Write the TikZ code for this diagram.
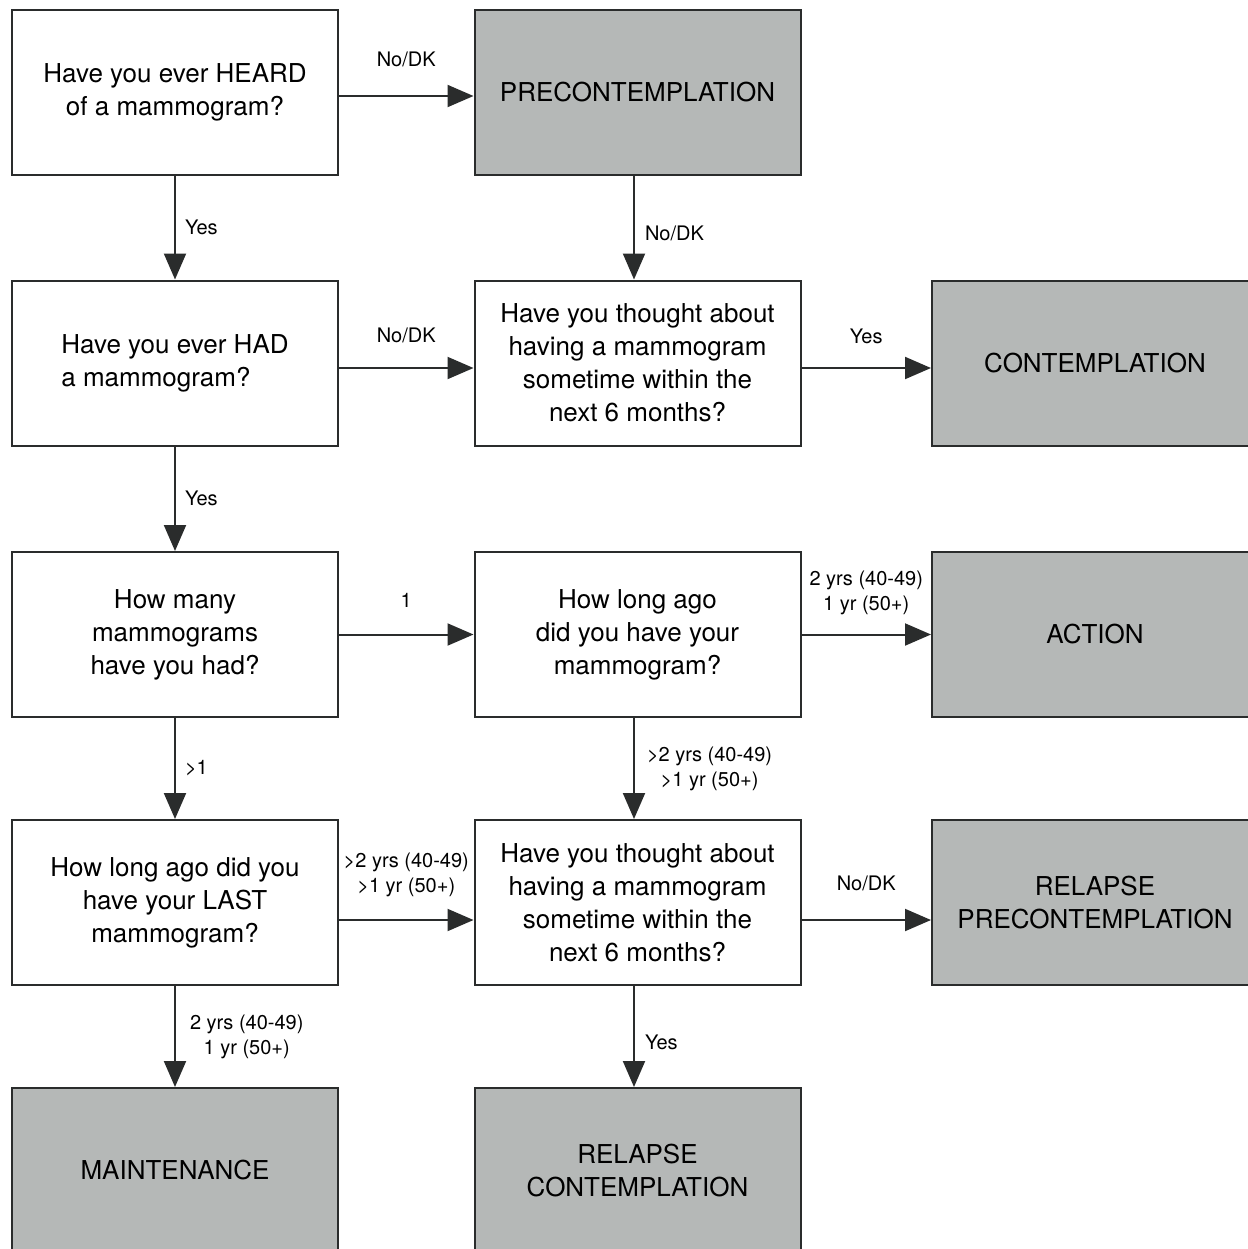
\documentclass[tikz,border=0pt]{standalone}
\usepackage{fontspec}
\setmainfont{TeX Gyre Heros}
\usepackage{xcolor}
\usepackage{tikz}
\usetikzlibrary{positioning, arrows.meta, calc}
\definecolor{stagegray}{HTML}{B5B8B7}
\definecolor{linegray}{HTML}{2A2C2C}

\begin{document}
\begin{tikzpicture}[x=0.5pt, y=-0.5pt,
  q/.style={draw=linegray, line width=1pt, fill=white, inner sep=2pt,
            minimum width=163pt, minimum height=82.5pt, align=center,
            font=\fontsize{13}{16.5}\selectfont},
  stage/.style={q, fill=stagegray},
  lbl/.style={font=\fontsize{10}{12.5}\selectfont, align=center, inner sep=1pt},
  arr/.style={-{Triangle[length=13pt, width=11pt]}, line width=1pt, draw=linegray},
]
\path[use as bounding box, fill=white] (0,0) rectangle (1248,1249);

\node[q] (heard) at (175,92.5) {Have you ever HEARD\\of a mammogram?};
\node[stage] (pre) at (637.5,92.5) {PRECONTEMPLATION};

\node[q, align=left] (had) at (175,363) {Have you ever HAD\\ a mammogram?};
\node[q] (think) at (637.5,363) {Have you thought about\\having a mammogram\\sometime within the\\next 6 months?};
\node[stage] (con) at (1095,363) {CONTEMPLATION};

\node[q] (many) at (175,634.5) {How many\\mammograms\\have you had?};
\node[q] (ago) at (637.5,634.5) {How long ago\\did you have your\\mammogram?};
\node[stage] (act) at (1095,634.5) {ACTION};

\node[q] (last) at (175,902.5) {How long ago did you\\have your LAST\\mammogram?};
\node[q] (rethink) at (637.5,902.5) {Have you thought about\\having a mammogram\\sometime within the\\next 6 months?};
\node[stage] (rpre) at (1095,902.5) {RELAPSE\\PRECONTEMPLATION};

\node[stage] (maint) at (175,1170.5) {MAINTENANCE};
\node[stage] (rcon) at (637.5,1170.5) {RELAPSE\\CONTEMPLATION};

\draw[arr] ([yshift=-1.75pt]heard.east) -- node[lbl, above=13pt] {No/DK} ([yshift=-1.75pt]pre.west);
\draw[arr] (heard) -- node[lbl, right=3.5pt] {Yes} (had);
\draw[arr] ([xshift=-1.75pt]pre.south) -- node[lbl, right=4pt, pos=0.55] {No/DK} ([xshift=-1.75pt]think.north);

\draw[arr] ([yshift=-2.5pt]had.east) -- node[lbl, above=11pt] {No/DK} ([yshift=-2.5pt]think.west);
\draw[arr] ([yshift=-2.5pt]think.east) -- node[lbl, above=10.5pt] {Yes} ([yshift=-2.5pt]con.west);
\draw[arr] (had) -- node[lbl, right=3.5pt] {Yes} (many);

\draw[arr] (many) -- node[lbl, above=12pt] {1} (ago);
\draw[arr] (ago) -- node[lbl, above=8.5pt] {2 yrs (40-49)\\1 yr (50+)} (act);
\draw[arr] (many) -- node[lbl, right=3.5pt] {>1} (last);
\draw[arr] ([xshift=-1.75pt]ago.south) -- node[lbl, right=5pt] {>2 yrs (40-49)\\>1 yr (50+)} ([xshift=-1.75pt]rethink.north);

\draw[arr] ([yshift=-8.75pt]last.east) -- node[lbl, above=10pt] {>2 yrs (40-49)\\>1 yr (50+)} ([yshift=-8.75pt]rethink.west);
\draw[arr] ([yshift=-8.75pt]rethink.east) -- node[lbl, above=13pt] {No/DK} ([yshift=-8.75pt]rpre.west);
\draw[arr] (last) -- node[lbl, right=6pt] {2 yrs (40-49)\\1 yr (50+)} (maint);
\draw[arr] ([xshift=-1.75pt]rethink.south) -- node[lbl, right=4pt, pos=0.56] {Yes} ([xshift=-1.75pt]rcon.north);
\end{tikzpicture}
\end{document}
